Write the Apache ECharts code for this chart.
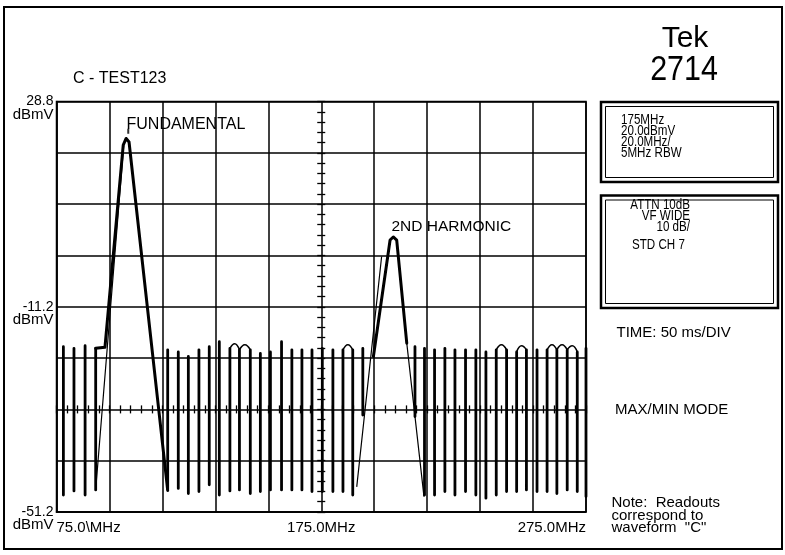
<!DOCTYPE html>
<html><head><meta charset="utf-8">
<script src="https://cdn.jsdelivr.net/npm/echarts@6/dist/echarts.min.js"></script>
<style>html,body{margin:0;padding:0;background:#fff}#c{width:785px;height:555px}</style>
</head><body><div id="c"></div>
<script>
// ---- data (MHz, dBmV) ----
const spikeFreq = [77.6,81.6,85.8,89.8,117.0,121.0,124.8,128.8,132.7,136.5,
  140.5,144.1,148.2,152.0,155.8,160.0,163.9,167.7,171.5,175.4,
  179.4,183.2,186.9,190.7,210.4,214.0,217.8,221.7,225.5,229.5,
  233.4,237.2,241.1,245.0,248.8,252.5,256.5,260.3,264.0,267.9,
  271.7,275.0];
const spikeTop = [-19.0,-19.3,-18.8,-19.3,-19.6,-20.0,-20.9,-19.6,-19.0,-18.0,
  -19.3,-19.6,-19.6,-20.3,-20.0,-18.0,-19.6,-19.6,-19.6,-19.3,
  -19.6,-19.6,-19.6,-19.3,-19.0,-19.3,-19.6,-19.3,-19.6,-19.6,
  -19.6,-20.0,-19.6,-19.6,-20.0,-19.6,-19.6,-19.6,-19.6,-19.6,
  -20.0,-19.3];
const spikeBottom = [-47.9,-47.1,-47.9,-46.9,-46.7,-46.6,-47.6,-47.2,-45.9,-47.9,
  -47.1,-46.9,-47.6,-47.2,-46.9,-46.9,-46.9,-46.9,-47.2,-47.2,
  -47.2,-47.2,-47.9,-32.3,-32.6,-47.9,-47.9,-47.2,-47.9,-47.2,
  -47.9,-48.5,-47.9,-47.2,-47.2,-46.9,-47.2,-47.2,-47.6,-46.9,
  -47.2,-48.2];
const arcFrom = [10,11,21,32,34,37,38,39];
const arcCrest = [-18.4,-18.6,-18.6,-18.6,-18.8,-18.6,-18.6,-18.8];
const fundMaxFreq = [89.8,93.3,100.2,101.3,102.4,117.0];
const fundMaxLevel = [-19.3,-19.1,20.3,21.6,20.9,-47.0];
const harmMaxFreq = [194.7,201.0,202.2,203.5,207.3];
const harmMaxLevel = [-20.9,1.8,2.4,1.8,-18.3];
const minTraceFreq = [89.8,100.4,null,188.4,197.8,null,207.3,213.8];
const minTraceLevel = [-46.9,20.3,null,-46.3,-1.4,null,-18.3,-48.2];
const markerFreq = [102.1];
const markerLevel = [23.0];
const xLabelValues = [75,175,275];
const xLabelTexts = ['75.0\\MHz','175.0MHz','275.0MHz'];
const yLabelValues = [28.8,-11.2,-51.2];
const yLabelTexts = ['28.8','-11.2','-51.2'];

// ---- build series data ----
const spikeData = [];
spikeFreq.forEach((f,i)=>{ spikeData.push([f,spikeTop[i]],[f,spikeBottom[i]],'-'); });
const arcData = [];
arcFrom.forEach((i,k)=>{
  const a = spikeFreq[i], b = spikeFreq[i+1];
  arcData.push([a,spikeTop[i]],[(a+b)/2,arcCrest[k]],[b,spikeTop[i+1]],'-');
});
const fundData = fundMaxFreq.map((f,i)=>[f,fundMaxLevel[i]]);
const harmData = harmMaxFreq.map((f,i)=>[f,harmMaxLevel[i]]);
const minData = minTraceFreq.map((f,i)=> f==null ? '-' : [f,minTraceLevel[i]]);
const markerData = markerFreq.map((f,i)=>[f,markerLevel[i]]);

const FONT = '"Liberation Sans", Arial, Helvetica, sans-serif';
const black = '#000';
const G = {left:56.5, top:101.5, width:529.5, height:410.5};

// tick-only axes used to draw the small ticks on the centre lines
function tickAxisX(grid, pos, off){
  return {type:'value', gridIndex:grid, min:75, max:275, interval:20, position:pos, offset:off,
    axisLine:{show:false, onZero:false}, splitLine:{show:false}, axisLabel:{show:false},
    axisTick:{show:true, inside:false, length:4, lineStyle:{color:black,width:1.3}},
    minorTick:{show:true, splitNumber:5, length:4, lineStyle:{color:black,width:1.3}}};
}
function tickAxisY(grid, pos, off){
  return {type:'value', gridIndex:grid, min:-51.2, max:28.8, interval:10, position:pos, offset:off,
    axisLine:{show:false, onZero:false}, splitLine:{show:false}, axisLabel:{show:false},
    axisTick:{show:true, inside:false, length:4, lineStyle:{color:black,width:1.3}},
    minorTick:{show:true, splitNumber:5, length:4, lineStyle:{color:black,width:1.3}}};
}

function txt(x,y,text,size,opts){
  opts = opts || {};
  return {type:'text', x:x, y:y, scaleX: opts.scaleX || 1, silent:true,
    style:{text:text, fill:black, font: size+'px '+FONT,
      textAlign: opts.align||'left', align: opts.align||'left',
      textVerticalAlign: opts.va||'middle', verticalAlign: opts.va||'middle',
      lineHeight: opts.lh || size}};
}

const chart = echarts.init(document.getElementById('c'), null, {renderer:'canvas'});
chart.setOption({
  backgroundColor:'#fff',
  animation:false,
  textStyle:{fontFamily:FONT, color:black},
  grid:[
    Object.assign({show:true, borderColor:black, borderWidth:1.5, backgroundColor:'transparent',
      containLabel:false, outerBoundsMode:'none'}, G),
    Object.assign({show:false, containLabel:false, outerBoundsMode:'none'}, G)
  ],
  xAxis:[
    {type:'value', gridIndex:0, position:'bottom', min:75, max:275, interval:20,
     axisLine:{show:true, onZero:false, lineStyle:{color:black,width:1.5}},
     axisTick:{show:false},
     splitLine:{show:true, lineStyle:{color:black,width:1.5}},
     axisLabel:{show:true, margin:8, color:black, fontSize:15, fontFamily:FONT,
       showMinLabel:true, showMaxLabel:true, alignMinLabel:'left', alignMaxLabel:'right', hideOverlap:false,
       formatter:(v)=>{ const k = xLabelValues.findIndex(t=>Math.abs(t-v)<0.01); return k<0?'':xLabelTexts[k]; }}},
    tickAxisX(0, 'top', -307.9),
    tickAxisX(1, 'bottom', -102.6)
  ],
  yAxis:[
    {type:'value', gridIndex:0, position:'left', min:-51.2, max:28.8, interval:10,
     axisLine:{show:true, onZero:false, lineStyle:{color:black,width:1.5}},
     axisTick:{show:false},
     splitLine:{show:true, lineStyle:{color:black,width:1.5}},
     axisLabel:{show:true, margin:3, color:black, align:'right', verticalAlign:'middle',
       showMinLabel:true, showMaxLabel:true, hideOverlap:false,
       formatter:(v)=>{ const k = yLabelValues.findIndex(t=>Math.abs(t-v)<0.01); return k<0?'':'{s| }\n{v|'+yLabelTexts[k]+'}\n{u|dBmV}'; },
       rich:{ s:{fontSize:10, lineHeight:14, fontFamily:FONT, align:'right'},
              v:{fontSize:14, lineHeight:12, fontFamily:FONT, color:black, align:'right'},
              u:{fontSize:15, lineHeight:14, fontFamily:FONT, color:black, align:'right'} }}},
    tickAxisY(0, 'right', -264.75),
    tickAxisY(1, 'left', -264.75)
  ],
  series:[
    {name:'spikes', type:'line', xAxisIndex:0, yAxisIndex:0, data:spikeData, symbol:'none', connectNulls:false,
     lineStyle:{color:black, width:2.8, cap:'round'}, z:5},
    {name:'arcs', type:'line', xAxisIndex:0, yAxisIndex:0, data:arcData, symbol:'none', smooth:0.5, connectNulls:false,
     lineStyle:{color:black, width:1.5}, z:5},
    {name:'fundamental', type:'line', xAxisIndex:0, yAxisIndex:0, data:fundData, symbol:'none',
     lineStyle:{color:black, width:3, join:'round', cap:'round'}, z:6},
    {name:'harmonic', type:'line', xAxisIndex:0, yAxisIndex:0, data:harmData, symbol:'none',
     lineStyle:{color:black, width:3, join:'round', cap:'round'}, z:6},
    {name:'min', type:'line', xAxisIndex:0, yAxisIndex:0, data:minData, symbol:'none', connectNulls:false,
     lineStyle:{color:black, width:1.2}, z:5},
    {name:'marker', type:'scatter', xAxisIndex:0, yAxisIndex:0, data:markerData, symbol:'rect', symbolSize:[2,5],
     itemStyle:{color:black}, z:6}
  ],
  graphic:[
    {type:'rect', silent:true, shape:{x:4, y:7, width:778, height:542}, style:{fill:'none', stroke:black, lineWidth:2}},
    {type:'rect', silent:true, shape:{x:601, y:102, width:177, height:80}, style:{fill:'none', stroke:black, lineWidth:2.5}},
    {type:'rect', silent:true, shape:{x:605.5, y:106.5, width:168, height:71}, style:{fill:'none', stroke:black, lineWidth:1}},
    {type:'rect', silent:true, shape:{x:601, y:195.5, width:177, height:112.5}, style:{fill:'none', stroke:black, lineWidth:2.5}},
    {type:'rect', silent:true, shape:{x:605.5, y:200, width:168, height:103.5}, style:{fill:'none', stroke:black, lineWidth:1}},
    txt(685, 39, 'Tek', 30, {align:'center'}),
    txt(684, 70, '2714', 35, {align:'center', scaleX:0.87}),
    txt(73, 79, 'C - TEST123', 16),
    txt(126.5, 125, 'FUNDAMENTAL', 16),
    txt(391.5, 227, '2ND HARMONIC', 15.5),
    txt(621, 114.8, '175MHz\n20.0dBmV\n20.0MHz/\n5MHz RBW', 14.5, {va:'top', lh:10.8, scaleX:0.8}),
    txt(690, 199.6, 'ATTN 10dB\nVF WIDE\n10 dB/', 14.5, {va:'top', lh:10.8, align:'right', scaleX:0.8}),
    txt(632, 245, 'STD CH 7', 14.5, {scaleX:0.8}),
    txt(616.5, 333, 'TIME: 50 ms/DIV', 15),
    txt(615, 410, 'MAX/MIN MODE', 15),
    txt(611.5, 497, 'Note:  Readouts\ncorrespond to\nwaveform  "C"', 15, {va:'top', lh:12.5})
  ]
});
</script></body></html>
